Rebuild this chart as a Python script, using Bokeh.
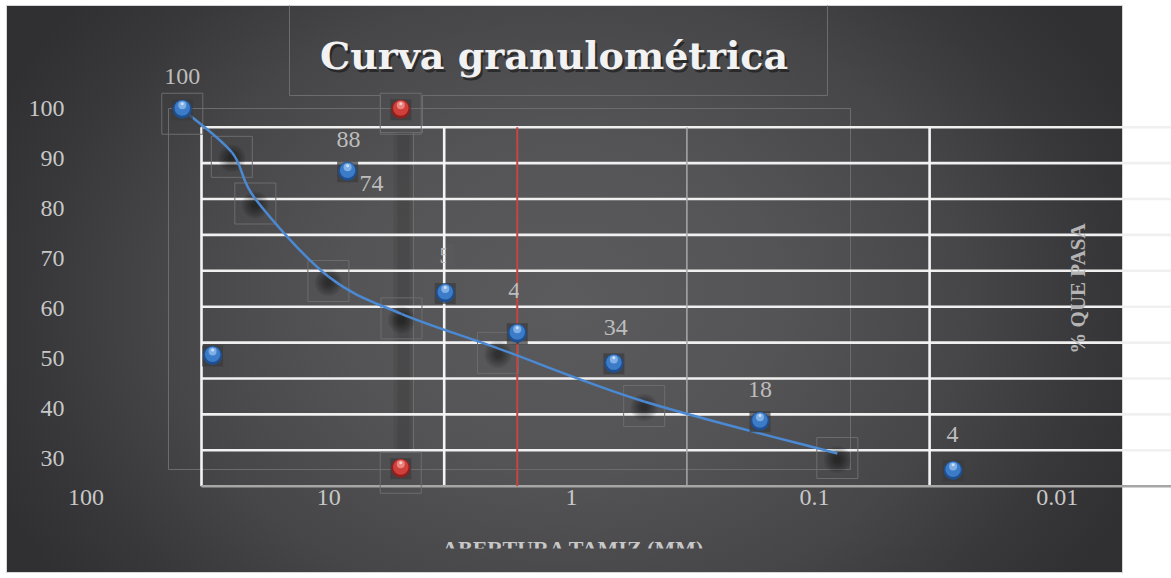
import numpy as np
from bokeh.plotting import figure
from bokeh.models import Range1d, LogScale, LinearScale, FixedTicker
from bokeh.core.properties import value
from bokeh.embed import file_html
from bokeh.resources import INLINE

# ---------------------------------------------------------------- data
# sieve opening (mm) and percent passing of the sample
sieve_mm = [120, 90, 25, 9.9, 5.0, 2.0, 0.50, 0.080]
pct_passing = [105, 36.4, 87.7, 53.8, 42.6, 34.2, 18.1, 4.4]

# reference markers
ref_mm = [15.1, 15.1]
ref_pct = [105, 5.0]

# points of the smoothed grading curve
curve_mm = [120, 75, 60, 30, 15, 6.0, 1.5, 0.24]
curve_pct = [105, 93, 80, 58.4, 48, 38.4, 23.6, 9.1]

# data labels and the marker each one belongs to
label_text = ["100", "88", "74", "5", "4", "34", "18", "4"]
label_point = [0, 2, 2, 3, 4, 5, 6, 7]

# axis ticks
x_tick_values = [100, 10, 1, 0.1, 0.01]
x_tick_labels = ["100", "10", "1", "0.1", "0.01"]
y_tick_values = [30, 40, 50, 60, 70, 80, 90, 100]

# chart grid
grid_pct = [10, 20, 30, 40, 50, 60, 70, 80, 90, 100]
grid_mm_white = [100, 10, 0.1]
grid_mm_grey = [1]
no4_sieve_mm = 5.0

# ---------------------------------------------------------------- layout
W, H = 1171, 578
FRAME_L, FRAME_B = 60, 548      # frame edges in page pixels
AXIS_Y = 487                    # where the horizontal axis is drawn
YLAB_RIGHT = 64                 # right edge of the vertical axis labels

# scale calibration (pixel position of a reference value, pixels per unit)
AX_X100, AX_DEC = 85.5, 242.8
AX_Y100, AX_PPU = 108.3, 5.0
GR_X100, GR_DEC = 201.0, 242.7
GR_Y0, GR_PPU = 485.7, 3.59


def ax_x(px):
    return 10 ** (2 - (px - AX_X100) / AX_DEC)


def ax_y(py):
    return 100 - (py - AX_Y100) / AX_PPU


def gr_x(px):
    return 10 ** (2 - (px - GR_X100) / GR_DEC)


def gr_y(py):
    return (GR_Y0 - py) / GR_PPU


def gy(px):
    # pixel distance expressed in percent units of the grid scale
    return px / GR_PPU


SERIF = "Liberation Serif"

p = figure(
    width=W, height=H, title=None,
    x_axis_type="log",
    x_range=Range1d(ax_x(FRAME_L), ax_x(W)),
    y_range=Range1d(ax_y(FRAME_B), ax_y(0)),
    output_backend="svg", toolbar_location=None,
    min_border_left=FRAME_L, min_border_right=0,
    min_border_top=0, min_border_bottom=H - FRAME_B,
)
p.extra_x_ranges = {"g": Range1d(gr_x(FRAME_L), gr_x(W)), "px": Range1d(FRAME_L, W)}
p.extra_y_ranges = {"g": Range1d(gr_y(FRAME_B), gr_y(0)), "px": Range1d(FRAME_B, 0)}
p.extra_x_scales = {"g": LogScale(), "px": LinearScale()}
p.extra_y_scales = {"g": LinearScale(), "px": LinearScale()}
G = dict(x_range_name="g", y_range_name="g")
PX = dict(x_range_name="px", y_range_name="px")

p.background_fill_color = None
p.border_fill_color = None
p.outline_line_color = None
p.xgrid.visible = False
p.ygrid.visible = False
p.styles = {
    "background": (
        "radial-gradient(ellipse 620px 480px at 557px 295px, #5b5b5d 0%, #545456 35%, "
        "#464648 65%, #38383a 85%, #303032 100%) 7px 6px / 1115px 566px no-repeat, "
        "linear-gradient(#d6d6d6, #d6d6d6) 6px 5px / 1117px 568px no-repeat, #ffffff"
    )
}

for ax in (p.xaxis[0], p.yaxis[0]):
    ax.axis_line_color = None
    ax.major_tick_line_color = None
    ax.minor_tick_line_color = None
    ax.major_tick_out = 0
    ax.major_tick_in = 0
    ax.minor_tick_out = 0
    ax.major_label_text_font = SERIF
    ax.major_label_text_font_size = "24px"
    ax.major_label_text_color = "#c8c8c8"

p.xaxis[0].ticker = FixedTicker(ticks=x_tick_values)
p.xaxis[0].major_label_overrides = dict(zip(x_tick_values, x_tick_labels))
p.xaxis[0].major_label_standoff = 2
p.xaxis[0].fixed_location = ax_y(AXIS_Y)
p.yaxis[0].ticker = FixedTicker(ticks=y_tick_values)
p.yaxis[0].major_label_standoff = FRAME_L - YLAB_RIGHT

# ---------------------------------------------------------------- frames and shadows
OUTLINE = "#6c6c6e"
p.quad(left=[168], right=[850], top=[108], bottom=[469], fill_color=None,
       line_color=OUTLINE, line_width=1, **PX)
p.line([289, 289, 380, 380, 422, 422, 827, 827], [5, 95, 95, 132, 132, 95, 95, 5],
       line_color=OUTLINE, line_width=1, **PX)
p.quad(left=[393, 397], right=[412, 409], top=[132, 132], bottom=[452, 452],
       fill_color="black", fill_alpha=0.07, line_color=None, **PX)
p.segment(x0=[413], y0=[132], x1=[413], y1=[450], line_color=OUTLINE, line_width=1, **PX)

# ---------------------------------------------------------------- grid
x_right = gr_x(W)
p.segment(x0=[100] * len(grid_pct), y0=grid_pct, x1=[x_right] * len(grid_pct), y1=grid_pct,
          line_color="#f0f0f0", line_width=2.6, **G)
p.segment(x0=grid_mm_white, y0=[0] * 3, x1=grid_mm_white, y1=[100] * 3,
          line_color="#f4f4f4", line_width=2.6, **G)
p.segment(x0=grid_mm_grey, y0=[0], x1=grid_mm_grey, y1=[100],
          line_color="#a8a8a8", line_width=1.5, **G)
p.segment(x0=[100], y0=[0], x1=[x_right], y1=[0], line_color="#a6a6a6", line_width=2.4, **G)
p.segment(x0=[no4_sieve_mm], y0=[0], x1=[no4_sieve_mm], y1=[100],
          line_color="#c8453f", line_width=2, **G)

# ---------------------------------------------------------------- curve markers (shadow + box)
box_y = [y - gy(4.5) for y in curve_pct]
p.rect(curve_mm, box_y, width=41, height=41, width_units="screen", height_units="screen",
       fill_color=None, line_color=OUTLINE, line_width=1, **G)
p.rect(ref_mm, [y - gy(4.5) for y in ref_pct], width=41, height=41, width_units="screen",
       height_units="screen", fill_color=None, line_color=OUTLINE, line_width=1, **G)
blob_y = [y - gy(6) for y in curve_pct]
for size in (27, 23, 19, 15, 11, 7):
    p.scatter(curve_mm[1:], blob_y[1:], size=size, fill_color="black", fill_alpha=0.09,
              line_color=None, **G)

# ---------------------------------------------------------------- smoothed curve
lx = np.log10(np.array(curve_mm, dtype=float))
ly = np.array(curve_pct, dtype=float)
n = len(lx)


def cp(i):
    i = min(max(i, 0), n - 1)
    return np.array([lx[i], ly[i]])


seg = {k: [] for k in ("x0", "y0", "x1", "y1", "cx0", "cy0", "cx1", "cy1")}
for i in range(n - 1):
    a, b, c, d = cp(i - 1), cp(i), cp(i + 1), cp(i + 2)
    c1 = b + (c - a) / 6.0
    c2 = c - (d - b) / 6.0
    for key, pt in (("0", b), ("1", c)):
        seg["x" + key].append(10 ** pt[0])
        seg["y" + key].append(pt[1])
    seg["cx0"].append(10 ** c1[0]); seg["cy0"].append(c1[1])
    seg["cx1"].append(10 ** c2[0]); seg["cy1"].append(c2[1])
p.bezier(line_color="#4b89d3", line_width=2.5, **seg, **G)

# ---------------------------------------------------------------- spheres


def spheres(xs, ys, edge, body, shine):
    p.rect(xs, [y - gy(0.5) for y in ys], width=21, height=21, width_units="screen",
           height_units="screen", fill_color="#3a3a3c", fill_alpha=0.7, line_color=None, **G)
    p.scatter(xs, ys, size=19, fill_color=edge, line_color=None, **G)
    p.scatter(xs, [y + gy(1.2) for y in ys], size=15.5, fill_color=body, line_color=None, **G)
    p.scatter(xs, [y + gy(4.0) for y in ys], size=8, fill_color=shine, fill_alpha=0.7,
              line_color=None, **G)
    p.scatter(xs, [y + gy(5.6) for y in ys], size=3, fill_color="white", fill_alpha=0.6,
              line_color=None, **G)


spheres(sieve_mm, pct_passing, "#1f4f8e", "#3b7bc8", "#9cc6f0")
spheres(ref_mm, ref_pct, "#8e2020", "#d0403b", "#f3a09a")

# ---------------------------------------------------------------- data labels
label_dx = [0, 1, 24, 0, -3, 2, 0, -0.5]
label_dy = [-33, -32, 12, -38, -43, -36, -32, -36]
p.text(x=[sieve_mm[i] for i in label_point], y=[pct_passing[i] for i in label_point],
       text=label_text, x_offset=label_dx, y_offset=label_dy,
       text_align="center", text_baseline="middle", text_font=value(SERIF),
       text_font_size="24px", text_color="#bdbdbd", **G)
# the two partially hidden labels
p.quad(left=[445.6, 518.3], right=[454, 526], top=[243, 279], bottom=[266, 302],
       fill_color=["#59595b", "#5a5a5c"], line_color=None, **PX)

# ---------------------------------------------------------------- titles
p.text(x=[555.5], y=[58], text=["Curva granulométrica"], text_align="center",
       text_baseline="alphabetic", text_font=value("DejaVu Serif"), text_font_style="bold",
       text_font_size="38px", text_color="black", text_alpha=0.45, **PX)
p.text(x=[553.5], y=[55], text=["Curva granulométrica"], text_align="center",
       text_baseline="alphabetic", text_font=value("DejaVu Serif"), text_font_style="bold",
       text_font_size="38px", text_color="#f2f2f2", **PX)
p.text(x=[1077], y=[288], text=["% QUE PASA"], angle=np.pi / 2, text_align="center",
       text_baseline="middle", text_font=value(SERIF), text_font_style="bold",
       text_font_size="21px", text_color="#b4b4b4", **PX)
p.text(x=[573], y=[548], text=["ABERTURA TAMIZ (MM)"], text_align="center",
       text_baseline="alphabetic", text_font=value(SERIF), text_font_style="bold",
       text_font_size="22px", text_color="#c8c8c8", **PX)

open("out.html", "w").write(file_html(p, INLINE))
